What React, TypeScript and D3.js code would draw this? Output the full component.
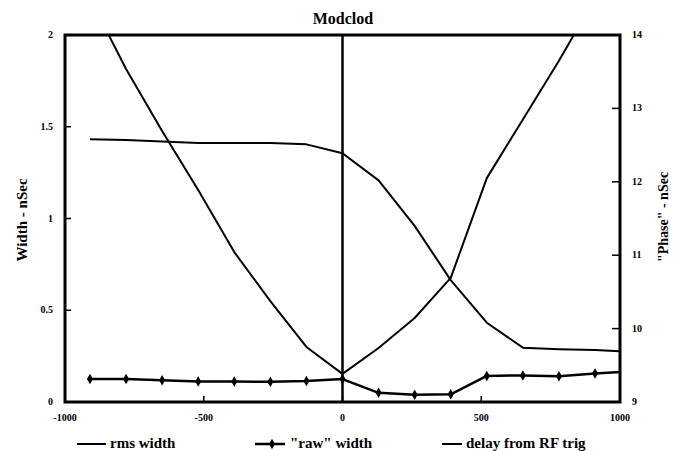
import React from "react";
import * as d3 from "d3";

const title = "Modclod";
const xValues = [-910, -780, -650, -520, -390, -260, -130, 0, 130, 260, 390, 520, 650, 780, 910, 1000];
const rawWidth = [0.125, 0.125, 0.118, 0.112, 0.112, 0.11, 0.115, 0.125, 0.05, 0.04, 0.042, 0.142, 0.145, 0.14, 0.155, 0.163];
const rmsWidth = [2.2, 1.815, 1.477, 1.155, 0.817, 0.55, 0.3, 0.153, 0.294, 0.458, 0.676, 1.22, 1.54, 1.86, 2.2, 2.4];
const delay = [12.58, 12.57, 12.55, 12.53, 12.53, 12.53, 12.51, 12.39, 12.02, 11.4, 10.66, 10.08, 9.74, 9.72, 9.71, 9.69];
const xTicks = [-1000, -500, 0, 500, 1000];
const xTickLabels = ["-1000", "-500", "0", "500", "1000"];
const leftTicks = [0, 0.5, 1, 1.5, 2];
const leftTickLabels = ["0", "0.5", "1", "1.5", "2"];
const rightTicks = [9, 10, 11, 12, 13, 14];
const rightTickLabels = ["9", "10", "11", "12", "13", "14"];
const legendLabels = ["rms width", "\"raw\" width", "delay from RF trig"];

const W = 676, H = 451;
const L = 65, R = 620, T = 35, B = 402;
const FONT = "'Liberation Serif', 'DejaVu Serif', serif";

export default function App() {
  const x = d3.scaleLinear().domain([-1000, 1000]).range([L, R]);
  const yL = d3.scaleLinear().domain([0, 2]).range([B, T]);
  const yR = d3.scaleLinear().domain([9, 14]).range([B, T]);

  const lineL = d3.line<number>().x((_, i) => x(xValues[i])).y((d) => yL(d));
  const lineR = d3.line<number>().x((_, i) => x(xValues[i])).y((d) => yR(d));

  const diamond = d3.symbol().type(d3.symbolDiamond).size(32)();

  return (
    <svg width={W} height={H} style={{ position: "absolute", left: 0, top: 0, background: "#fff" }}>
      <defs>
        <clipPath id="plot">
          <rect x={L} y={T} width={R - L} height={B - T} />
        </clipPath>
      </defs>
      <text x={343} y={24} textAnchor="middle" fontFamily={FONT} fontWeight="bold" fontSize={16}>{title}</text>

      <g clipPath="url(#plot)" fill="none" stroke="#000" strokeLinejoin="round">
        <path d={lineL(rmsWidth) || ""} strokeWidth={2} />
        <path d={lineR(delay) || ""} strokeWidth={2} />
        <path d={lineL(rawWidth) || ""} strokeWidth={2.5} />
      </g>
      <g>
        {rawWidth.slice(0, -1).map((v, i) => (
          <path key={i} d={diamond || ""} transform={`translate(${x(xValues[i])},${yL(v)})`} fill="#000" />
        ))}
      </g>

      <line x1={x(0)} x2={x(0)} y1={T} y2={B} stroke="#000" strokeWidth={2.5} />

      <rect x={L} y={T} width={R - L} height={B - T} fill="none" stroke="#000" strokeWidth={3} />

      {xTicks.map((t, i) => (
        <g key={"x" + i}>
          <line x1={x(t)} x2={x(t)} y1={B} y2={B - 6} stroke="#000" strokeWidth={1.5} />
          <text x={x(t)} y={421} textAnchor="middle" fontFamily={FONT} fontWeight="bold" fontSize={10}>{xTickLabels[i]}</text>
        </g>
      ))}
      {leftTicks.map((t, i) => (
        <g key={"l" + i}>
          <line x1={L} x2={L + 6} y1={yL(t)} y2={yL(t)} stroke="#000" strokeWidth={1.5} />
          <text x={53} y={yL(t) + 3} textAnchor="end" fontFamily={FONT} fontWeight="bold" fontSize={10}>{leftTickLabels[i]}</text>
        </g>
      ))}
      {rightTicks.map((t, i) => (
        <g key={"r" + i}>
          <line x1={R - 8} x2={R} y1={yR(t)} y2={yR(t)} stroke="#000" strokeWidth={1.5} />
          <text x={632} y={yR(t) + 3} textAnchor="start" fontFamily={FONT} fontWeight="bold" fontSize={10}>{rightTickLabels[i]}</text>
        </g>
      ))}

      <text transform="translate(27,220) rotate(-90)" textAnchor="middle" fontFamily={FONT} fontWeight="bold" fontSize={15}>Width - nSec</text>
      <text transform="translate(668,217) rotate(-90)" textAnchor="middle" fontFamily={FONT} fontWeight="bold" fontSize={14}>"Phase" - nSec</text>

      <g fontFamily={FONT} fontWeight="bold" fontSize={15}>
        <line x1={77} x2={106} y1={444} y2={444} stroke="#000" strokeWidth={2} />
        <text x={110} y={448}>{legendLabels[0]}</text>
        <line x1={255} x2={285} y1={444} y2={444} stroke="#000" strokeWidth={2.5} />
        <path d={diamond || ""} transform="translate(272,444)" fill="#000" />
        <text x={290} y={448}>{legendLabels[1]}</text>
        <line x1={442} x2={462} y1={444} y2={444} stroke="#000" strokeWidth={2} />
        <text x={466} y={448}>{legendLabels[2]}</text>
      </g>
    </svg>
  );
}
